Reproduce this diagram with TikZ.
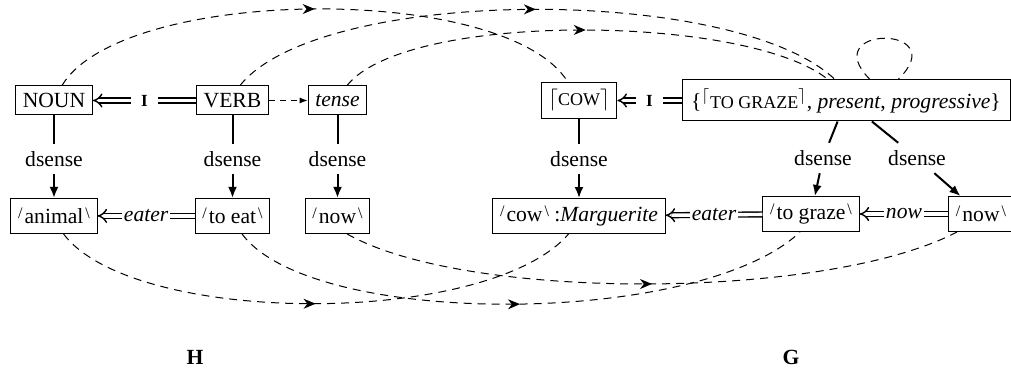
\documentclass[tikz,border=0pt]{standalone}
\usepackage{fontspec}
\setmainfont{Liberation Serif}
\usetikzlibrary{arrows.meta,positioning,decorations.markings}
\newcommand\basefont{\fontsize{10.8}{13}\selectfont}
\newcommand\slsh[1]{\raisebox{2.6pt}{\fontsize{8}{9}\selectfont #1}}
\newcommand\sem[1]{\slsh{/}\kern1pt#1\kern1pt\slsh{\textbackslash}}
\newcommand\smc[1]{{\fontsize{9}{10}\selectfont #1}}
\tikzset{
  box/.style={draw,line width=0.5pt,minimum height=14.5pt,inner xsep=3.6pt},
  sembox/.style={box,minimum height=17.5pt},
  sense/.style={inner sep=3.6pt},
  senseline/.style={line width=1pt},
  sensearr/.style={line width=1pt,-{Latex[length=5.5pt,width=4.5pt]}},
  dbl/.style={double,double distance=1.7pt,line width=0.7pt,-{Implies[scale=1.3]}},
  ilbl/.style={fill=white,inner xsep=5pt,inner ysep=1pt,font=\fontsize{8.5}{10}\selectfont\bfseries},
  rlbl/.style={fill=white,inner xsep=1pt,inner ysep=1pt,font=\basefont\itshape},
  corr/.style={line width=0.5pt,dash pattern=on 4pt off 3pt,postaction={decorate},
    decoration={markings,mark=at position 0.5 with {\arrow{Stealth[length=6pt,width=5pt]}}}},
  selfloop/.style={line width=0.5pt,dash pattern=on 4pt off 3pt},
  vtarr/.style={line width=0.5pt,dash pattern=on 3pt off 2.5pt,-{Latex[length=4pt,width=3pt]}}
}
\begin{document}
\begin{tikzpicture}[x=0.5pt,y=-0.5pt,font=\basefont]
  \useasboundingbox (0,0) rectangle (1011,369);
  % left graph H
  \node[box] (noun) at (54,100.5) {NOUN};
  \node[box] (verb) at (232.5,100.5) {VERB};
  \node[box] (tense) at (337.5,100.5) {\textit{tense}};
  \node[sense,below=14pt of noun] (ds1) {dsense};
  \node[sense,below=14pt of verb] (ds2) {dsense};
  \node[sense,below=14pt of tense] (ds3) {dsense};
  \node[sembox,below=12pt of ds1] (animal) {\sem{animal}};
  \node[sembox,below=12pt of ds2] (toeat) {\sem{to eat}};
  \node[sembox,below=12pt of ds3] (nowh) {\sem{now}};
  \node[font=\basefont\bfseries] (hlab) at (195,357) {H};
  % right graph G
  \node[box,minimum height=17.5pt] (cow) at (579,100.5) {$\lceil$\smc{COW}$\rceil$};
  \node[box,minimum height=20.5pt,minimum width=164pt] (graze) at (846,100.5)
    {\{$^{\lceil}$\smc{TO GRAZE}$^{\rceil}$, \textit{present}, \textit{progressive}\}};
  \node[sense,below=12.5pt of cow] (ds4) {dsense};
  \node[sense] (ds5) at (823,158) {dsense};
  \node[sense] (ds6) at (917,158) {dsense};
  \node[sembox,below=12pt of ds4] (cowm) {\sem{cow} :\textit{Marguerite}};
  \node[sembox] (grz) at (811,214) {\sem{to graze}};
  \node[sembox] (nowg) at (981,214) {\sem{now}};
  \node[font=\basefont\bfseries] (glab) at (791,357) {G};
  % relations
  \draw[dbl] (verb) -- node[ilbl]{I} (noun);
  \draw[vtarr] (verb) -- (tense);
  \draw[dbl] (toeat) -- node[rlbl]{eater} (animal);
  \draw[dbl] (graze) -- node[ilbl]{I} (cow);
  \draw[dbl] (grz) -- node[rlbl]{eater} (cowm);
  \draw[dbl] (nowg) -- node[rlbl]{now} (grz);
  \draw[senseline] (noun) -- (ds1);
  \draw[sensearr] (ds1) -- (animal);
  \draw[senseline] (verb) -- (ds2);
  \draw[sensearr] (ds2) -- (toeat);
  \draw[senseline] (tense) -- (ds3);
  \draw[sensearr] (ds3) -- (nowh);
  \draw[senseline] (cow) -- (ds4);
  \draw[sensearr] (ds4) -- (cowm);
  \draw[senseline] (graze) -- (ds5);
  \draw[sensearr] (ds5) -- (grz);
  \draw[senseline] (graze) -- (ds6);
  \draw[sensearr] (ds6) -- (nowg);
  % correspondences
  \draw[corr] ([xshift=4pt]noun.north) .. controls +(60,-100) and +(-60,-100) .. ([xshift=-5.5pt]cow.north);
  \draw[corr] ([xshift=3.75pt]verb.north) .. controls +(80,-100) and +(-100,-95) .. ([xshift=-5.5pt]graze.north);
  \draw[corr] ([xshift=4.75pt]tense.north) .. controls +(60,-75) and +(-80,-65) .. ([xshift=-9pt]graze.north);
  \draw[selfloop] ([xshift=12pt]graze.north) .. controls +(-55,-55) and +(57,-55) .. ([xshift=26pt]graze.north);
  \draw[corr] ([xshift=4.75pt]animal.south) .. controls +(70,93) and +(-80,93) .. ([xshift=-5.25pt]cowm.south);
  \draw[corr] ([xshift=4.75pt]toeat.south) .. controls +(70,95) and +(-100,95) .. ([xshift=-5.5pt]grz.south);
  \draw[corr] ([xshift=4.75pt]nowh.south) .. controls +(120,68) and +(-130,68) .. ([xshift=-12pt]nowg.south);
\end{tikzpicture}
\end{document}
